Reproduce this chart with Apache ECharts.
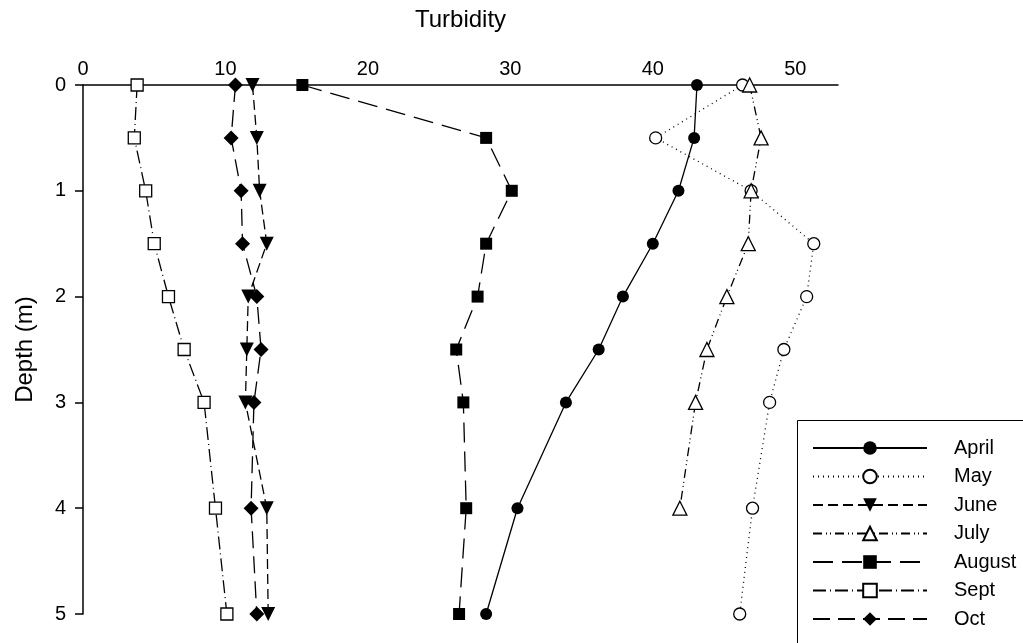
<!DOCTYPE html>
<html>
<head>
<meta charset="utf-8">
<script src="https://cdn.jsdelivr.net/npm/echarts@6/dist/echarts.min.js"></script>
<style>
html,body{margin:0;padding:0;background:#fff;}
#chart{width:1023px;height:643px;}
</style>
</head>
<body>
<div id="chart"></div>
<script>
// Depth levels (m)
const depths = [0, 0.5, 1, 1.5, 2, 2.5, 3, 4, 5];
// Turbidity values per month, one per depth
const april  = [43.1, 42.9, 41.8, 40.0, 37.9, 36.2, 33.9, 30.5, 28.3];
const may    = [46.3, 40.2, 46.9, 51.3, 50.8, 49.2, 48.2, 47.0, 46.1];
const june   = [11.9, 12.2, 12.4, 12.9, 11.6, 11.5, 11.4, 12.9, 13.0];
const july   = [46.8, 47.6, 46.9, 46.7, 45.2, 43.8, 43.0, 41.9];
const august = [15.4, 28.3, 30.1, 28.3, 27.7, 26.2, 26.7, 26.9, 26.4];
const sept   = [3.8, 3.6, 4.4, 5.0, 6.0, 7.1, 8.5, 9.3, 10.1];
const oct    = [10.7, 10.4, 11.1, 11.2, 12.2, 12.5, 12.0, 11.8, 12.2];
const monthNames = ['April', 'May', 'June', 'July', 'August', 'Sept', 'Oct'];
const xTickLabels = [0, 10, 20, 30, 40, 50];
const yTickLabels = [0, 1, 2, 3, 4, 5];

const FONT = 'Liberation Sans, Arial, sans-serif';
const monthValues = [april, may, june, july, august, sept, oct];
const styles = [
  { symbol: 'circle', size: 12, fill: '#000', dash: 'solid' },
  { symbol: 'circle', size: 12, fill: '#fff', dash: [1, 4] },
  { symbol: 'triangle', size: 14, fill: '#000', dash: [10, 5], rotate: 180 },
  { symbol: 'triangle', size: 14, fill: '#fff', dash: [9, 4, 1, 3, 1, 4] },
  { symbol: 'rect', size: 12, fill: '#000', dash: [20, 9] },
  { symbol: 'rect', size: 12, fill: '#fff', dash: [13, 4, 1, 4] },
  { symbol: 'diamond', size: 15, fill: '#000', dash: [17, 8] }
];

const series = monthNames.map((name, i) => {
  const vals = monthValues[i];
  const st = styles[i];
  return {
    name: name,
    type: 'line',
    data: vals.map((v, k) => [v, depths[k]]),
    symbol: st.symbol,
    symbolSize: st.size,
    symbolRotate: st.rotate || 0,
    showAllSymbol: true,
    clip: false,
    lineStyle: { color: '#000', width: 1.3, type: st.dash },
    itemStyle: { color: st.fill, borderColor: '#000', borderWidth: st.fill === '#fff' ? 1.3 : 0 },
    emphasis: { disabled: true },
    z: 3
  };
});

const chart = echarts.init(document.getElementById('chart'), null, { renderer: 'canvas' });
chart.setOption({
  backgroundColor: '#fff',
  animation: false,
  textStyle: { fontFamily: FONT },
  grid: { left: 83, right: 185, top: 85, bottom: 29, containLabel: false },
  graphic: [{
    type: 'rect',
    left: 797,
    top: 420,
    z: 5,
    shape: { width: 320, height: 320 },
    style: { fill: '#fff', stroke: '#000', lineWidth: 1 }
  }],
  xAxis: {
    type: 'value',
    position: 'top',
    min: 0,
    max: 53,
    interval: 10,
    name: 'Turbidity',
    nameLocation: 'middle',
    nameGap: 53,
    nameTextStyle: { fontSize: 24, color: '#000', fontFamily: FONT },
    axisLine: { show: true, onZero: false, lineStyle: { color: '#000', width: 1.5 } },
    axisTick: { show: false },
    splitLine: { show: false },
    axisLabel: {
      margin: 6,
      fontSize: 20,
      color: '#000',
      fontFamily: FONT,
      formatter: function (v) { return xTickLabels.indexOf(v) >= 0 ? String(v) : ''; }
    }
  },
  yAxis: {
    type: 'value',
    inverse: true,
    min: 0,
    max: 5,
    interval: 1,
    name: 'Depth (m)',
    nameLocation: 'middle',
    nameGap: 46,
    nameTextStyle: { fontSize: 24, color: '#000', fontFamily: FONT },
    axisLine: { show: true, onZero: false, lineStyle: { color: '#000', width: 1.5 } },
    axisTick: { show: true, inside: false, length: 8, lineStyle: { color: '#000', width: 1.5 } },
    splitLine: { show: false },
    axisLabel: {
      margin: 17,
      fontSize: 20,
      color: '#000',
      fontFamily: FONT,
      formatter: function (v) { return yTickLabels.indexOf(v) >= 0 ? String(v) : ''; }
    }
  },
  legend: {
    orient: 'vertical',
    left: 797,
    top: 420,
    z: 10,
    padding: [18, 0, 0, 15],
    itemWidth: 114,
    itemHeight: 17,
    itemGap: 8.5,
    selectedMode: false,
    data: monthNames,
    textStyle: { fontSize: 20, color: '#000', fontFamily: FONT, lineHeight: 20, padding: [0, 0, 0, 22] }
  },
  series: series
});
</script>
</body>
</html>
